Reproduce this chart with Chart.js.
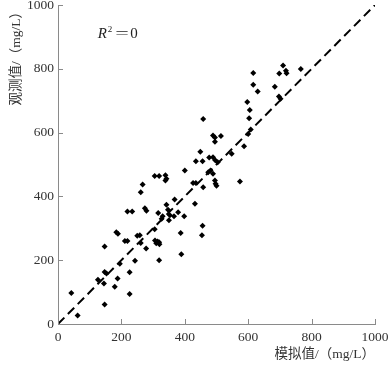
<!DOCTYPE html>
<html lang="zh">
<head>
  <meta charset="UTF-8">
  <title>模拟值与观测值</title>
  <script src="https://cdn.jsdelivr.net/npm/chart.js"></script>
  <style>
    html, body { margin: 0; padding: 0; background: #fff; }
    #wrap { width: 389px; height: 366px; }
  </style>
</head>
<body>
  <div id="wrap"><canvas id="chart"></canvas></div>
  <script>
    // 模拟值 (mg/L)
    const simValues = [
      42, 62, 126, 147, 147, 153, 145, 147, 179, 188,
      195, 184, 189, 211, 219, 226, 226, 219, 234, 243,
      250, 258, 261, 261, 267, 274, 279, 278, 305, 319,
      305, 316, 319, 306, 314, 319, 310, 320, 327, 339,
      342, 339, 342, 347, 353, 350, 330, 366, 368, 379,
      387, 389, 398, 400, 432, 426, 435, 435, 456, 458,
      456, 454, 474, 481, 489, 495, 497, 500, 449, 458,
      489, 495, 514, 495, 477, 489, 496, 504, 574, 548,
      587, 600, 608, 603, 605, 597, 616, 616, 630, 684,
      698, 710, 719, 721, 766, 697, 702
    ];
    // 观测值 (mg/L)
    const obsValues = [
      97, 27, 139, 243, 163, 158, 127, 61, 117, 143,
      189, 288, 283, 260, 260, 162, 94, 353, 353, 198,
      277, 278, 254, 413, 437, 363, 355, 237, 464, 464,
      297, 348, 200, 262, 259, 256, 253, 250, 330, 466,
      455, 450, 374, 358, 341, 325, 338, 338, 390, 350,
      285, 219, 338, 481, 377, 442, 442, 510, 510, 429,
      308, 278, 476, 481, 471, 450, 440, 433, 540, 643,
      591, 585, 589, 571, 522, 523, 513, 507, 447, 534,
      557, 596, 610, 645, 671, 696, 750, 787, 729, 744,
      785, 810, 794, 786, 799, 713, 706
    ];
    // 1:1 线
    const refX = [0, 1000];
    const refY = [0, 1000];
    const axisTicks = [0, 200, 400, 600, 800, 1000];

    const serif = "'Liberation Serif', 'DejaVu Serif', 'Noto Sans CJK SC', serif";
    const axisGrey = '#8a8a8a';

    const innerTicks = {
      id: 'innerTicks',
      afterDraw(chart) {
        const { ctx, scales: { x, y } } = chart;
        ctx.save();
        ctx.strokeStyle = axisGrey;
        ctx.lineWidth = 1;
        ctx.beginPath();
        axisTicks.forEach(v => {
          const px = Math.round(x.getPixelForValue(v)) + 0.5;
          ctx.moveTo(px, y.bottom);
          ctx.lineTo(px, y.bottom - 5);
          const py = Math.round(y.getPixelForValue(v)) + 0.5;
          ctx.moveTo(x.left, py);
          ctx.lineTo(x.left + 5, py);
        });
        ctx.stroke();

        // R² 标注
        let tx = x.getPixelForValue(125);
        const ty = y.getPixelForValue(895);
        ctx.fillStyle = '#222';
        ctx.textBaseline = 'alphabetic';
        ctx.font = 'italic 15px ' + serif;
        ctx.fillText('R', tx, ty);
        tx += ctx.measureText('R').width + 1;
        ctx.font = '9px ' + serif;
        ctx.fillText('2', tx, ty - 6);
        tx += ctx.measureText('2').width + 3;
        ctx.font = '15px ' + serif;
        ctx.save();
        ctx.translate(tx, ty);
        ctx.scale(1.6, 1);
        ctx.fillText('=', 0, 0);
        ctx.restore();
        tx += 15;
        ctx.fillText('0', tx, ty);
        ctx.restore();
      }
    };

    new Chart(document.getElementById('chart'), {
      type: 'scatter',
      data: {
        datasets: [
          {
            label: '观测值',
            data: simValues.map((v, i) => ({ x: v, y: obsValues[i] })),
            pointStyle: 'rectRot',
            pointRadius: 3,
            backgroundColor: '#000',
            borderColor: '#000',
            borderWidth: 0
          },
          {
            label: '1:1',
            type: 'line',
            data: refX.map((v, i) => ({ x: v, y: refY[i] })),
            borderColor: '#000',
            borderWidth: 2,
            borderDash: [9, 5],
            pointRadius: 0,
            fill: false
          }
        ]
      },
      options: {
        responsive: true,
        maintainAspectRatio: false,
        animation: false,
        layout: { padding: { left: 0, right: 14, top: 5, bottom: 0 } },
        plugins: { legend: { display: false }, tooltip: { enabled: false } },
        scales: {
          x: {
            type: 'linear',
            min: 0, max: 1000,
            afterFit(s) { s.height = 42; s.paddingLeft = 0; s.paddingRight = 0; },
            afterBuildTicks(s) { s.ticks = axisTicks.map(v => ({ value: v })); },
            grid: { drawOnChartArea: false, drawTicks: false },
            border: { color: axisGrey, width: 1 },
            ticks: {
              padding: 5, color: '#333', font: { family: serif, size: 13.5 },
              callback: v => String(v)
            },
            title: {
              display: true, text: '模拟值/（mg/L）', align: 'end',
              color: '#333', font: { family: serif, size: 13.5 }, padding: { top: 0, bottom: 3 }
            }
          },
          y: {
            type: 'linear',
            min: 0, max: 1000,
            afterFit(s) { s.width = 58; s.paddingTop = 0; s.paddingBottom = 0; },
            afterBuildTicks(s) { s.ticks = axisTicks.map(v => ({ value: v })); },
            grid: { drawOnChartArea: false, drawTicks: false },
            border: { color: axisGrey, width: 1 },
            ticks: {
              padding: 4, color: '#333', font: { family: serif, size: 13.5 },
              callback: v => String(v)
            },
            title: {
              display: true, text: '观测值/（mg/L）', align: 'end',
              color: '#333', font: { family: serif, size: 13.5 }, padding: { top: 8, bottom: 0 }
            }
          }
        }
      },
      plugins: [innerTicks]
    });
  </script>
</body>
</html>
